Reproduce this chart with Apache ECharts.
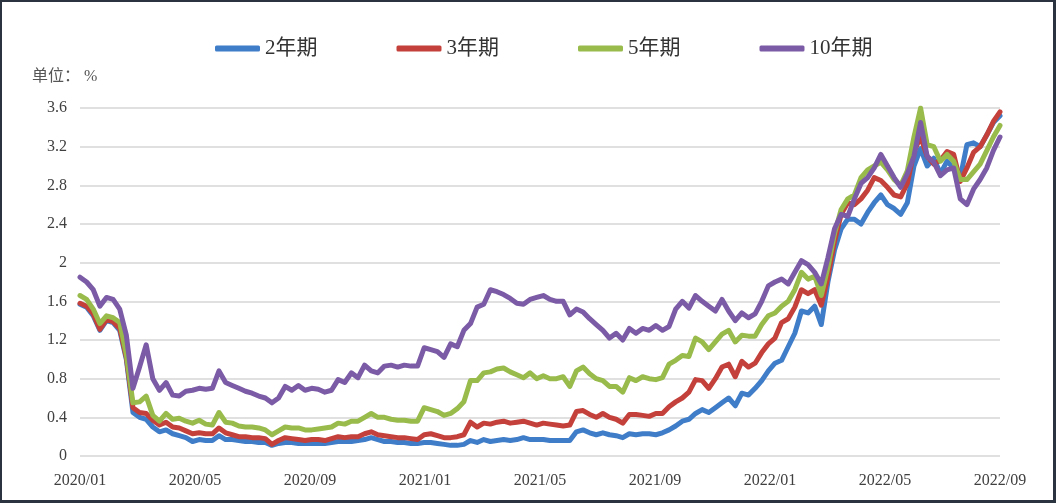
<!DOCTYPE html>
<html>
<head>
<meta charset="utf-8">
<script src="https://cdn.jsdelivr.net/npm/echarts@6/dist/echarts.min.js"></script>
<style>
  html, body { margin: 0; padding: 0; background: #2b3240; }
  #chart { position: absolute; left: 2px; top: 2px; width: 1051px; height: 498px; background: #fff; }
</style>
</head>
<body>
<div id="chart"></div>
<script>
// 国债收益率（周度取样），单位 %
const seriesNames = ['2年期', '3年期', '5年期', '10年期'];
const xTickLabels = ['2020/01', '2020/05', '2020/09', '2021/01', '2021/05', '2021/09', '2022/01', '2022/05', '2022/09'];

const y2 = [
  1.57,1.54,1.45,1.30,1.40,1.38,1.30,1.00,0.45,0.40,0.38,0.30,0.25,0.27,0.23,0.21,0.19,0.15,0.17,0.16,
  0.16,0.21,0.17,0.17,0.16,0.15,0.15,0.14,0.14,0.11,0.13,0.14,0.14,0.13,0.13,0.13,0.13,0.13,0.14,0.15,
  0.15,0.15,0.16,0.17,0.19,0.17,0.15,0.15,0.14,0.14,0.13,0.13,0.14,0.14,0.13,0.12,0.11,0.11,0.12,0.16,
  0.14,0.17,0.15,0.16,0.17,0.16,0.17,0.19,0.17,0.17,0.17,0.16,0.16,0.16,0.16,0.25,0.27,0.24,0.22,0.24,
  0.22,0.21,0.19,0.23,0.22,0.23,0.23,0.22,0.24,0.27,0.31,0.36,0.38,0.44,0.48,0.45,0.50,0.55,0.60,0.52,
  0.65,0.63,0.70,0.78,0.88,0.96,0.99,1.13,1.27,1.50,1.48,1.55,1.36,1.80,2.13,2.35,2.45,2.45,2.40,2.52,
  2.62,2.70,2.60,2.56,2.50,2.62,3.00,3.18,3.00,3.08,2.92,3.05,2.98,2.88,3.22,3.24,3.20,3.32,3.45,3.52
];
const y3 = [
  1.58,1.55,1.47,1.31,1.41,1.39,1.32,1.02,0.50,0.45,0.44,0.37,0.32,0.35,0.30,0.29,0.26,0.23,0.24,0.23,
  0.23,0.29,0.24,0.22,0.20,0.20,0.19,0.19,0.18,0.12,0.16,0.19,0.18,0.17,0.16,0.17,0.17,0.16,0.18,0.20,
  0.19,0.20,0.20,0.23,0.25,0.22,0.21,0.20,0.19,0.19,0.18,0.17,0.22,0.23,0.21,0.19,0.19,0.20,0.22,0.35,
  0.30,0.34,0.33,0.35,0.36,0.34,0.35,0.36,0.34,0.32,0.34,0.33,0.32,0.31,0.32,0.46,0.47,0.43,0.40,0.44,
  0.40,0.38,0.34,0.43,0.43,0.42,0.41,0.44,0.44,0.51,0.56,0.60,0.66,0.79,0.78,0.70,0.80,0.92,0.95,0.82,
  0.98,0.92,0.96,1.07,1.16,1.22,1.38,1.42,1.54,1.72,1.68,1.72,1.56,1.85,2.22,2.50,2.62,2.60,2.66,2.75,
  2.88,2.85,2.78,2.70,2.68,2.82,3.15,3.30,3.10,3.02,3.06,3.15,3.12,2.84,2.98,3.14,3.20,3.32,3.46,3.56
];
const y5 = [
  1.66,1.62,1.52,1.37,1.45,1.43,1.38,1.05,0.55,0.56,0.62,0.42,0.36,0.44,0.38,0.39,0.36,0.34,0.37,0.33,
  0.32,0.45,0.35,0.34,0.31,0.30,0.30,0.29,0.27,0.22,0.26,0.30,0.29,0.29,0.27,0.27,0.28,0.29,0.30,0.34,
  0.33,0.36,0.36,0.40,0.44,0.40,0.40,0.38,0.37,0.37,0.36,0.36,0.50,0.48,0.46,0.42,0.44,0.49,0.56,0.78,
  0.78,0.86,0.87,0.90,0.91,0.87,0.84,0.81,0.86,0.80,0.83,0.80,0.80,0.82,0.72,0.88,0.92,0.85,0.80,0.78,
  0.72,0.72,0.66,0.81,0.78,0.82,0.80,0.79,0.81,0.95,0.99,1.04,1.03,1.22,1.18,1.10,1.18,1.26,1.30,1.18,
  1.25,1.24,1.24,1.36,1.45,1.48,1.55,1.60,1.72,1.90,1.83,1.86,1.66,1.95,2.30,2.55,2.66,2.70,2.88,2.96,
  3.00,3.04,2.96,2.86,2.80,2.95,3.30,3.60,3.22,3.20,3.05,3.12,3.05,2.86,2.86,2.94,3.02,3.16,3.30,3.42
];
const y10 = [
  1.85,1.80,1.72,1.55,1.64,1.62,1.52,1.25,0.70,0.92,1.15,0.80,0.68,0.76,0.63,0.62,0.67,0.68,0.70,0.69,
  0.70,0.88,0.76,0.73,0.70,0.67,0.65,0.62,0.60,0.55,0.60,0.72,0.68,0.73,0.68,0.70,0.69,0.66,0.68,0.79,
  0.76,0.86,0.81,0.94,0.88,0.86,0.93,0.94,0.92,0.94,0.93,0.93,1.12,1.10,1.08,1.02,1.16,1.13,1.30,1.37,
  1.54,1.57,1.72,1.70,1.67,1.63,1.58,1.57,1.62,1.64,1.66,1.62,1.60,1.60,1.46,1.52,1.49,1.42,1.36,1.30,
  1.22,1.27,1.20,1.32,1.27,1.32,1.30,1.35,1.30,1.34,1.52,1.60,1.53,1.66,1.60,1.55,1.50,1.62,1.50,1.40,
  1.48,1.43,1.47,1.60,1.76,1.80,1.83,1.78,1.90,2.02,1.98,1.90,1.78,2.05,2.35,2.50,2.48,2.66,2.82,2.88,
  2.98,3.12,3.00,2.88,2.78,2.92,3.10,3.45,3.10,3.04,2.90,2.96,2.98,2.66,2.60,2.76,2.86,2.98,3.16,3.30
];

const colors = ['#3f7dc9', '#c4413b', '#98bb4c', '#7b5aa6'];
const allValues = [y2, y3, y5, y10];
const monthSpan = 32; // 2020/01 → 2022/09

// 周度样本在月份轴上的位置
function toPoints(values) {
  const step = monthSpan / (values.length - 1);
  return values.map((v, i) => [i * step, v]);
}

const serif = "'Liberation Serif', 'Noto Sans CJK SC', serif";
const chart = echarts.init(document.getElementById('chart'));

chart.setOption({
  animation: false,
  color: colors,
  grid: { left: 78, right: 53, top: 106, bottom: 44, containLabel: false },
  legend: {
    top: 31,
    left: 208,
    itemWidth: 45,
    itemHeight: 6,
    itemGap: 79,
    icon: 'roundRect',
    textStyle: { fontFamily: serif, fontSize: 21, color: '#333' },
    data: seriesNames
  },
  graphic: [{
    type: 'text',
    left: 30,
    top: 67,
    style: { text: '单位： %', font: "16px " + serif, fill: '#555' }
  }],
  xAxis: {
    type: 'value',
    min: 0,
    max: monthSpan,
    interval: 4,
    axisLine: { show: false },
    axisTick: { show: false },
    splitLine: { show: false },
    axisLabel: {
      margin: 17,
      fontFamily: serif,
      fontSize: 16,
      color: '#404040',
      formatter: v => xTickLabels[Math.round(v / 4)]
    }
  },
  yAxis: {
    type: 'value',
    min: 0,
    max: 3.6,
    interval: 0.4,
    axisLine: { show: false },
    axisTick: { show: false },
    splitLine: { lineStyle: { color: '#d6d6d6', width: 1.5 } },
    axisLabel: {
      margin: 13,
      fontFamily: serif,
      fontSize: 16,
      color: '#404040',
      formatter: v => String(Math.round(v * 10) / 10)
    }
  },
  series: seriesNames.map((name, k) => ({
    name: name,
    type: 'line',
    data: toPoints(allValues[k]),
    symbol: 'none',
    lineStyle: { width: 5, join: 'round', cap: 'round' }
  }))
});
</script>
</body>
</html>
